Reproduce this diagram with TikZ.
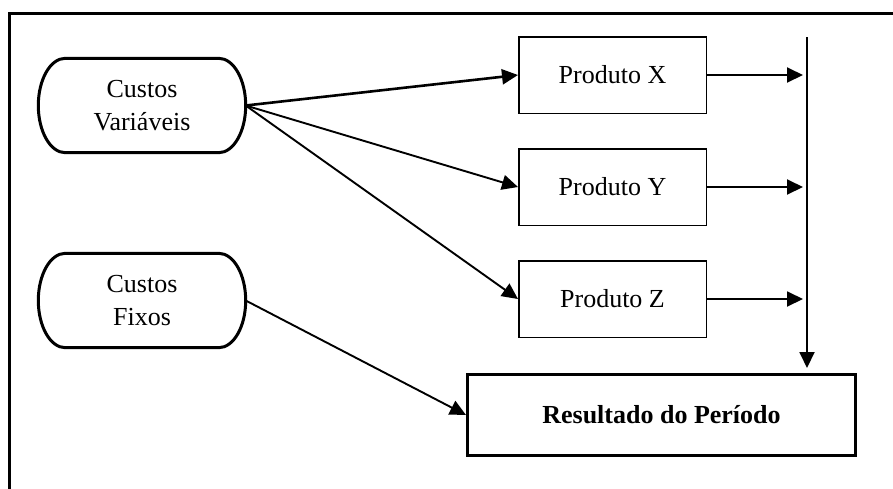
\documentclass[tikz,border=0pt]{standalone}
\usepackage{fontspec}
\setmainfont{Liberation Serif}
\usetikzlibrary{arrows.meta}
\newcommand{\drawcapsule}[1]{%
  \draw[capline] ([xshift=27pt]#1.north west) -- ([xshift=-27pt]#1.north east)
    .. controls ([xshift=-12.1pt]#1.north east) and ([yshift=26pt]#1.east) .. (#1.east)
    .. controls ([yshift=-26pt]#1.east) and ([xshift=-12.1pt]#1.south east) .. ([xshift=-27pt]#1.south east)
    -- ([xshift=27pt]#1.south west)
    .. controls ([xshift=12.1pt]#1.south west) and ([yshift=-26pt]#1.west) .. (#1.west)
    .. controls ([yshift=26pt]#1.west) and ([xshift=12.1pt]#1.north west) .. cycle;}
\begin{document}
\begin{tikzpicture}[x=1pt,y=-1pt,
  every node/.style={font=\fontsize{26}{33}\selectfont, align=center, inner sep=0pt},
  capsule/.style={minimum width=207pt, minimum height=94pt},
  capline/.style={line width=3pt, line join=round},
  prodbox/.style={draw, line width=1.5pt, minimum width=187.5pt, minimum height=76.5pt},
  resbox/.style={draw, line width=3pt, minimum width=388pt, minimum height=81pt, font=\fontsize{26}{33}\selectfont\bfseries},
  arr/.style={line width=1.9pt, -{Triangle[length=16pt,width=15pt]}},
  frame/.style={line width=3pt}
]
\useasboundingbox (0,0) rectangle (893,488);
\coordinate (fb) at (9.5,492);
\coordinate (fc) at (9.5,13.5);
\coordinate (fr) at (897,13.5);
\draw[frame] (fb) -- (fc) -- (fr);

\node[capsule] (cv) at (142,105.5) {Custos\\Variáveis};
\node[capsule] (cf) at (142,300.5) {Custos\\Fixos};
\drawcapsule{cv}
\drawcapsule{cf}

\node[prodbox] (px) at (612.5,75) {Produto X};
\node[prodbox] (py) at (612.5,187) {Produto Y};
\node[prodbox] (pz) at (612.5,299) {Produto Z};

\node[resbox] (res) at (661.5,415) {Resultado do Período};

\coordinate (vt) at (807,37);

\draw[arr, line width=2.6pt] (cv.east) -- (px.west);
\draw[arr] (cv.east) -- (py.west);
\draw[arr] (cv.east) -- (pz.west);
\draw[arr] (cf.east) -- (res.west);

\draw[arr] (px.east) -- ([xshift=-4pt]px.east -| vt);
\draw[arr] (py.east) -- ([xshift=-4pt]py.east -| vt);
\draw[arr] (pz.east) -- ([xshift=-4pt]pz.east -| vt);

\draw[arr] (vt) -- ([yshift=5pt]res.north -| vt);
\end{tikzpicture}
\end{document}
